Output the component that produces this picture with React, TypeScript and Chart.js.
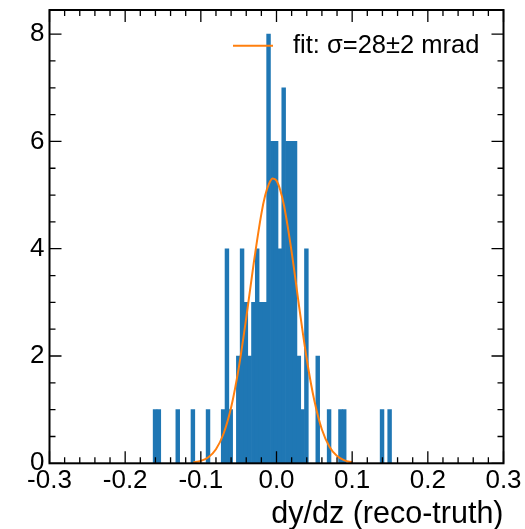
import React, { useEffect, useRef } from "react";
import { Chart, registerables } from "chart.js";

Chart.register(...registerables);

// Histogram binning (bin low edge of first listed bin, bin width)
const binLow = -0.163;
const binWidth = 0.005;
// Counts per bin
const binCounts = [
  1, 1, 0, 0, 0, 0, 1, 0, 0, 0,
  1, 0, 0, 0, 1, 0, 0, 0, 1, 4,
  1, 0, 2, 4, 3, 2, 3, 4, 3, 3,
  8, 6, 6, 4, 7, 6, 6, 6, 2, 1,
  4, 0, 0, 2, 0, 0, 1, 0, 0, 1,
  1, 0, 0, 0, 0, 0, 0, 0, 0, 0,
  1, 0, 1,
];

// Fit curve points
const fitX = [
  -0.11, -0.1, -0.09, -0.08, -0.07, -0.06, -0.05, -0.04, -0.03, -0.02,
  -0.015, -0.01, -0.005, 0.0, 0.005, 0.01, 0.02, 0.03, 0.04, 0.05,
  0.06, 0.07, 0.08, 0.09, 0.1,
];
const fitY = [
  0.015, 0.044, 0.113, 0.263, 0.551, 1.04, 1.77, 2.71, 3.74, 4.65,
  4.99, 5.21, 5.31, 5.27, 5.09, 4.8, 3.94, 2.91, 1.94, 1.17,
  0.63, 0.31, 0.135, 0.054, 0.019,
];

const yTickValues = [0, 2, 4, 6, 8];
const xTickValues = [-0.3, -0.2, -0.1, 0.0, 0.1, 0.2, 0.3];
const xTickLabels = ["-0.3", "-0.2", "-0.1", "0.0", "0.1", "0.2", "0.3"];

const fitLabel = "fit: σ=28±2 mrad";
const xTitle = "dy/dz (reco-truth)";
const xMin = -0.3;
const xMax = 0.3;
const yMin = 0;
const yMax = 8.45;

const FONT = "'Liberation Sans', Arial, Helvetica, sans-serif";

const framePlugin = {
  id: "frameTicksLegend",
  afterDatasetsDraw(chart: any) {
    const { ctx, chartArea: a, scales } = chart;
    const x = scales.x;
    const y = scales.y;
    ctx.save();
    ctx.strokeStyle = "#000";
    ctx.lineWidth = 1.3;
    ctx.beginPath();
    for (let k = 0; k <= 30; k++) {
      const v = xMin + 0.02 * k;
      const px = x.getPixelForValue(v);
      const len = k % 5 === 0 ? 12 : 6;
      ctx.moveTo(px, a.bottom);
      ctx.lineTo(px, a.bottom - len);
      ctx.moveTo(px, a.top);
      ctx.lineTo(px, a.top + len);
    }
    for (let k = 0; k * 0.5 <= yMax; k++) {
      const py = y.getPixelForValue(k * 0.5);
      const len = k % 4 === 0 ? 12 : 6;
      ctx.moveTo(a.left, py);
      ctx.lineTo(a.left + len, py);
      ctx.moveTo(a.right, py);
      ctx.lineTo(a.right - len, py);
    }
    ctx.stroke();
    ctx.restore();
  },
  afterDraw(chart: any) {
    const { ctx, chartArea: a } = chart;
    ctx.save();
    ctx.strokeStyle = "#000";
    ctx.lineWidth = 2;
    ctx.strokeRect(a.left, a.top, a.right - a.left, a.bottom - a.top);
    // legend
    const ds = chart.data.datasets[0];
    const ly = a.top + 35.7;
    ctx.strokeStyle = ds.borderColor;
    ctx.lineWidth = 2;
    ctx.beginPath();
    ctx.moveTo(a.left + 183.5, ly);
    ctx.lineTo(a.left + 223.5, ly);
    ctx.stroke();
    ctx.fillStyle = "#000";
    ctx.font = `25.5px ${FONT}`;
    ctx.textAlign = "left";
    ctx.textBaseline = "middle";
    ctx.fillText(ds.label, a.left + 243.5, ly);
    ctx.restore();
  },
};

export default function App() {
  const ref = useRef<HTMLCanvasElement | null>(null);

  useEffect(() => {
    if (!ref.current) return;
    const bars = binCounts.map((c, i) => ({ x: binLow + binWidth * (i + 0.5), y: c }));
    const fit = fitX.map((v, i) => ({ x: v, y: fitY[i] }));
    const chart = new Chart(ref.current, {
      type: "bar",
      data: {
        datasets: [
          {
            type: "line",
            label: fitLabel,
            data: fit,
            borderColor: "#ff7f0e",
            borderWidth: 2,
            pointRadius: 0,
            cubicInterpolationMode: "monotone",
            fill: false,
            order: 0,
          } as any,
          {
            type: "bar",
            label: "data",
            data: bars,
            backgroundColor: "#1f77b4",
            borderWidth: 0,
            barPercentage: 1,
            categoryPercentage: 1,
            grouped: false,
            order: 1,
          } as any,
        ],
      },
      options: {
        responsive: false,
        animation: false,
        devicePixelRatio: 1,
        layout: { padding: { top: 10, right: 21.5, left: 0, bottom: 0 } },
        plugins: {
          legend: { display: false },
          tooltip: { enabled: false },
        },
        scales: {
          x: {
            type: "linear",
            min: xMin,
            max: xMax,
            offset: false,
            grid: { display: false, drawTicks: false },
            border: { display: false },
            afterBuildTicks: (s: any) => {
              s.ticks = xTickValues.map((v) => ({ value: v }));
            },
            ticks: {
              color: "#000",
              font: { family: FONT, size: 26 },
              padding: 2,
              maxRotation: 0,
              autoSkip: false,
              callback: (_v: any, i: number) => xTickLabels[i],
            },
            title: {
              display: true,
              text: xTitle,
              align: "end",
              color: "#000",
              font: { family: FONT, size: 30.5 },
              padding: { top: 0, bottom: -3.5 },
            },
            afterFit: (s: any) => {
              s.height = 65.7;
              s.paddingLeft = 0;
              s.paddingRight = 0;
            },
          },
          y: {
            min: yMin,
            max: yMax,
            grid: { display: false, drawTicks: false },
            border: { display: false },
            afterBuildTicks: (s: any) => {
              s.ticks = yTickValues.map((v) => ({ value: v }));
            },
            ticks: {
              color: "#000",
              font: { family: FONT, size: 26 },
              padding: 5,
              callback: (v: any) => String(v),
            },
            afterFit: (s: any) => {
              s.width = 49.5;
              s.paddingTop = 0;
              s.paddingBottom = 0;
            },
          },
        },
      },
      plugins: [framePlugin],
    });
    return () => chart.destroy();
  }, []);

  return (
    <div style={{ position: "fixed", left: 0, top: 0, width: 525, height: 529, background: "#fff" }}>
      <canvas ref={ref} width={525} height={529} />
    </div>
  );
}
